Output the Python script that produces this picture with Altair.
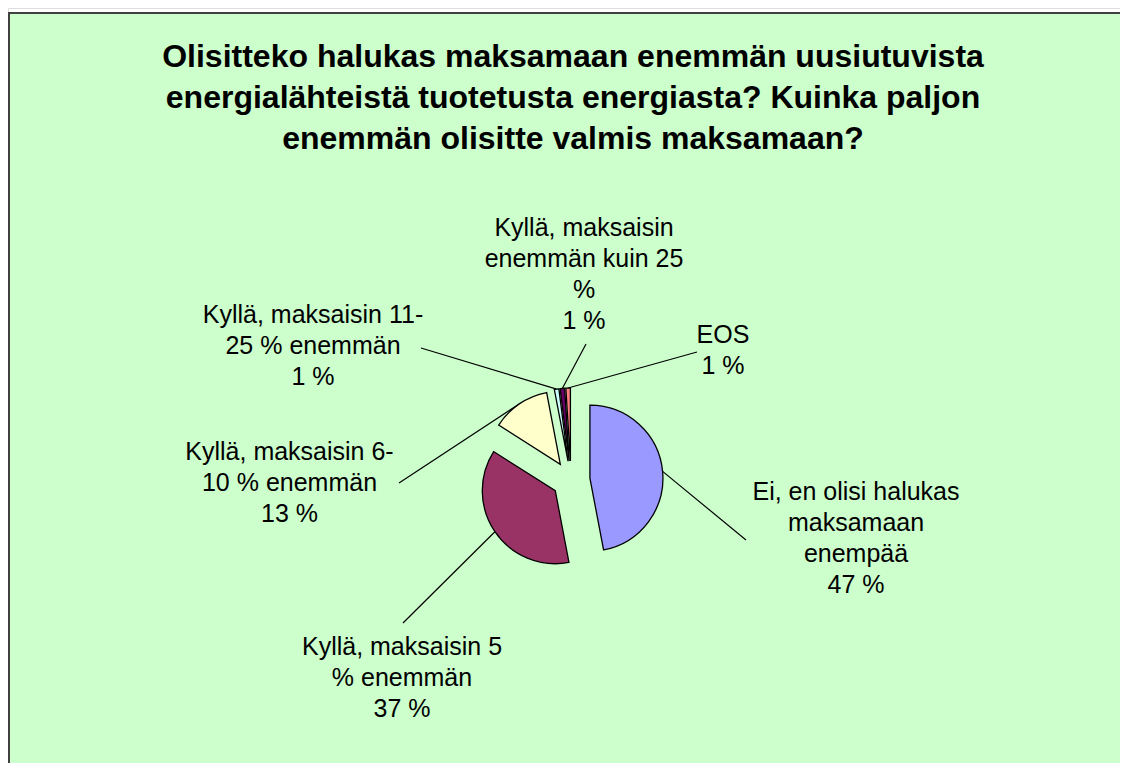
import altair as alt
import pandas as pd

# ---- data ----
categories = [
    "Ei, en olisi halukas maksamaan enempää",
    "Kyllä, maksaisin 5 % enemmän",
    "Kyllä, maksaisin 6-10 % enemmän",
    "Kyllä, maksaisin 11-25 % enemmän",
    "Kyllä, maksaisin enemmän kuin 25 %",
    "EOS",
]
label_text = [
    "Ei, en olisi halukas\nmaksamaan\nenempää",
    "Kyllä, maksaisin 5\n% enemmän",
    "Kyllä, maksaisin 6-\n10 % enemmän",
    "Kyllä, maksaisin 11-\n25 % enemmän",
    "Kyllä, maksaisin\nenemmän kuin 25\n%",
    "EOS",
]
values = [47, 37, 13, 1, 1, 1]
title_lines = [
    "Olisitteko halukas maksamaan enemmän uusiutuvista",
    "energialähteistä tuotetusta energiasta? Kuinka paljon",
    "enemmän olisitte valmis maksamaan?",
]

# ---- style / layout ----
colors = ["#9999FF", "#993366", "#FFFFCC", "#CCFFFF", "#660066", "#FF8080"]
W, H = 1112, 755
CX, CY = 563, 472      # pie centre (px)
R = 73                 # pie radius
EXPLODE = 19           # explode distance
# first-line centre of each label block
label_x = [848, 394, 281.5, 305, 576, 715]
label_y = [484, 639, 444, 307, 220, 327]
leader_x = [738, 395, 391, 413, 578, 689]
leader_y = [532, 615, 475, 340, 336, 344]
FONT = "Arial, Liberation Sans, sans-serif"

df = pd.DataFrame({
    "name": categories,
    "value": values,
    "order": list(range(len(categories))),
    "text": [t + "\n" + str(v) + " %" for t, v in zip(label_text, values)],
    "lx": label_x, "ly": label_y,
    "ax": leader_x, "ay": leader_y,
})

base = (
    alt.Chart(df)
    .transform_window(cum="sum(value)", sort=[alt.SortField("order")], frame=[None, 0])
    .transform_joinaggregate(total="sum(value)")
    .transform_calculate(
        a0="2*PI*(datum.cum-datum.value)/datum.total",
        a1="2*PI*datum.cum/datum.total",
    )
    .transform_calculate(am="(datum.a0+datum.a1)/2")
    .transform_calculate(
        cx=f"{CX}+{EXPLODE}*sin(datum.am)",
        cy=f"{CY}-{EXPLODE}*cos(datum.am)",
    )
    .transform_calculate(
        ex=f"datum.cx+{R}*sin(datum.am)",
        ey=f"datum.cy-{R}*cos(datum.am)",
    )
)

one = pd.DataFrame({"k": [0]})
bg = alt.Chart(one).mark_rect(fill="#CCFFCC").encode(
    x=alt.value(0), x2=alt.value(W), y=alt.value(4), y2=alt.value(H)
)
border_top = alt.Chart(one).mark_rule(color="#404040", strokeWidth=2).encode(
    x=alt.value(0), x2=alt.value(W), y=alt.value(5)
)
border_left = alt.Chart(one).mark_rule(color="#404040", strokeWidth=2).encode(
    x=alt.value(1), y=alt.value(4), y2=alt.value(H)
)

leaders = base.mark_rule(color="black", strokeWidth=1.2).encode(
    x=alt.X("ax:Q", scale=None, axis=None),
    y=alt.Y("ay:Q", scale=None, axis=None),
    x2="ex:Q",
    y2="ey:Q",
)

arcs = base.mark_arc(radius=R, stroke="black", strokeWidth=1.3).encode(
    theta=alt.Theta("a0:Q", scale=None),
    theta2="a1:Q",
    x=alt.X("cx:Q", scale=None, axis=None),
    y=alt.Y("cy:Q", scale=None, axis=None),
    color=alt.Color("name:N", scale=alt.Scale(domain=categories, range=colors), legend=None),
)

labels = base.mark_text(
    font=FONT, fontSize=25, lineBreak="\n", lineHeight=31,
    align="center", baseline="middle", color="black",
).encode(
    x=alt.X("lx:Q", scale=None, axis=None),
    y=alt.Y("ly:Q", scale=None, axis=None),
    text="text:N",
)

title = alt.Chart(pd.DataFrame({"t": ["\n".join(title_lines)]})).mark_text(
    font=FONT, fontSize=32, fontWeight="bold", lineBreak="\n", lineHeight=41,
    align="center", baseline="middle", color="black",
).encode(x=alt.value(565), y=alt.value(49), text="t:N")

chart = (
    alt.layer(bg, border_top, border_left, leaders, arcs, labels, title)
    .properties(width=W, height=H, autosize=alt.AutoSizeParams(type="none"), padding=0)
    .configure_view(stroke=None)
    .configure(background="white")
)

chart.save("out.html", embed_options={"renderer": "svg", "actions": False})
